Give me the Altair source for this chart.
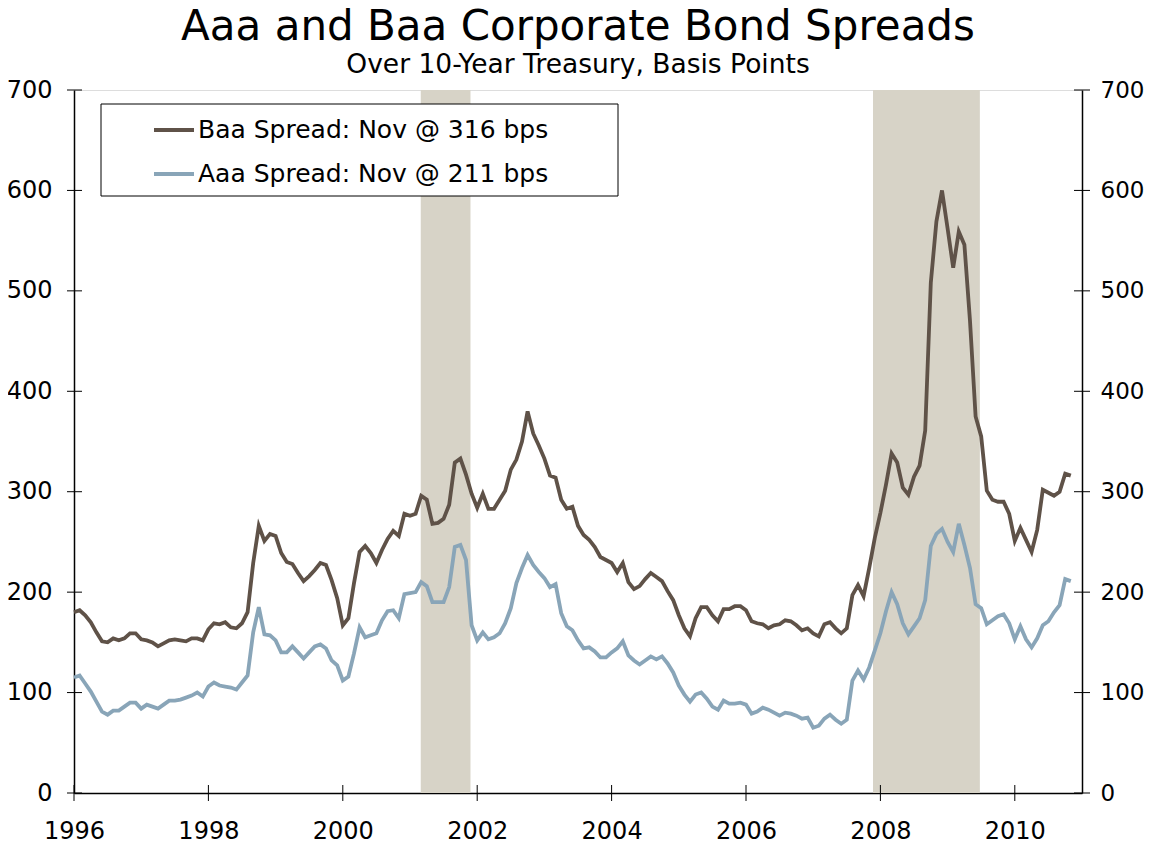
import altair as alt
import pandas as pd

# Monthly spreads over 10-year Treasury (basis points), Jan 1996 - Nov 2010
baa = [
    180, 182, 177, 170, 160, 151, 150, 154, 152, 154, 159, 159,  # 1996
    153, 152, 150, 146, 149, 152, 153, 152, 151, 154, 154, 152,  # 1997
    163, 169, 168, 170, 165, 164, 169, 180, 229, 266, 251, 258,  # 1998
    256, 239, 230, 228, 219, 211, 216, 222, 229, 227, 212, 194,  # 1999
    167, 174, 209, 240, 246, 239, 229, 242, 253, 261, 256, 278,  # 2000
    276, 278, 296, 292, 268, 269, 273, 287, 329, 333, 317, 298,  # 2001
    284, 298, 283, 283, 292, 301, 322, 332, 350, 380, 358, 346,  # 2002
    333, 316, 314, 292, 283, 285, 266, 257, 252, 245, 235, 232,  # 2003
    229, 220, 229, 210, 203, 206, 213, 219, 215, 211, 201, 192,  # 2004
    177, 164, 156, 174, 185, 185, 177, 171, 183, 183, 186, 186,  # 2005
    182, 171, 169, 168, 164, 167, 168, 172, 171, 167, 162, 164,  # 2006
    159, 156, 168, 170, 164, 159, 164, 197, 207, 196, 224, 254,  # 2007
    279, 307, 338, 329, 304, 297, 315, 326, 361, 508, 569, 600,  # 2008
    562, 523, 559, 546, 470, 375, 355, 301, 292, 290, 290, 278,  # 2009
    251, 264, 252, 240, 262, 302, 299, 296, 300, 318, 316,       # 2010
]
aaa = [
    115, 117, 109, 101, 91, 81, 78, 82, 82, 86, 90, 90,          # 1996
    84, 88, 86, 84, 88, 92, 92, 93, 95, 97, 100, 96,             # 1997
    106, 110, 107, 106, 105, 103, 110, 117, 160, 185, 158, 157,  # 1998
    152, 140, 140, 146, 140, 134, 140, 146, 148, 144, 132, 127,  # 1999
    112, 116, 139, 165, 155, 157, 159, 172, 181, 182, 174, 198,  # 2000
    199, 200, 210, 206, 190, 190, 190, 205, 245, 247, 232, 167,  # 2001
    152, 160, 153, 155, 159, 169, 184, 209, 224, 237, 227, 220,  # 2002
    214, 205, 208, 179, 166, 162, 152, 144, 145, 141, 135, 135,  # 2003
    140, 144, 151, 137, 132, 128, 132, 136, 133, 136, 129, 120,  # 2004
    107, 98, 91, 98, 100, 94, 86, 83, 92, 89, 89, 90,            # 2005
    88, 79, 81, 85, 83, 80, 77, 80, 79, 77, 74, 75,              # 2006
    65, 67, 74, 78, 73, 69, 73, 112, 122, 113, 125, 142,         # 2007
    159, 181, 200, 188, 169, 158, 166, 174, 192, 246, 258, 263,  # 2008
    250, 240, 268, 247, 224, 188, 184, 168, 172, 176, 178, 169,  # 2009
    153, 166, 153, 145, 154, 167, 171, 180, 187, 213, 211,       # 2010
]
start_year = 1996
recession_start = [2001.16, 2007.89]
recession_end = [2001.90, 2009.48]
x_ticks = [1996, 1998, 2000, 2002, 2004, 2006, 2008, 2010]
y_ticks = [0, 100, 200, 300, 400, 500, 600, 700]

baa_label = f"Baa Spread: Nov @ {baa[-1]} bps"
aaa_label = f"Aaa Spread: Nov @ {aaa[-1]} bps"
baa_color = "#5F5248"
aaa_color = "#89A5B8"
band_color = "#D7D3C7"
FONT = "DejaVu Sans"

W, H = 1008, 703

rows = []
for i, v in enumerate(baa):
    rows.append({"t": start_year + i / 12, "v": v, "s": baa_label})
for i, v in enumerate(aaa):
    rows.append({"t": start_year + i / 12, "v": v, "s": aaa_label})
df = pd.DataFrame(rows)

rec = pd.DataFrame({"a": recession_start, "b": recession_end})
yt = pd.DataFrame({"v": y_ticks})
xt = pd.DataFrame({"yr": x_ticks})

xscale = alt.Scale(domain=[1996, 2011], nice=False, zero=False)
yscale = alt.Scale(domain=[0, 700], nice=False, zero=True)

x_axis = alt.Axis(
    values=x_ticks, format="d", ticks=False, grid=False, title=None,
    labelFontSize=24, labelFont=FONT, labelColor="black",
    labelPadding=26, domainColor="black", domainWidth=1.5,
    labelFlush=False, labelOverlap=False,
)

bands = alt.Chart(rec).mark_rect(color=band_color).encode(
    x=alt.X("a:Q", scale=xscale, axis=x_axis),
    x2="b:Q",
)

box = alt.Chart(pd.DataFrame({"k": [0]})).mark_rect(
    fill="white", stroke="black", strokeWidth=1
).encode(
    x=alt.value(27), x2=alt.value(544), y=alt.value(14), y2=alt.value(106)
)

lines = alt.Chart(df).mark_line(strokeWidth=3.8).encode(
    x=alt.X("t:Q", scale=xscale, axis=x_axis),
    y=alt.Y(
        "v:Q",
        scale=yscale,
        axis=alt.Axis(
            values=y_ticks, ticks=False, grid=False, title=None,
            labelFontSize=24, labelFont=FONT, labelColor="black",
            labelPadding=22, domainColor="black", domainWidth=1.5,
            labelFlush=False, labelOverlap=False,
        ),
    ),
    color=alt.Color(
        "s:N",
        scale=alt.Scale(domain=[baa_label, aaa_label], range=[baa_color, aaa_color]),
        legend=alt.Legend(
            orient="none", legendX=78, legendY=18, title=None,
            symbolType="stroke", symbolSize=1600, symbolStrokeWidth=4,
            labelFontSize=25, labelFont=FONT, labelColor="black",
            labelOffset=2, labelLimit=0, rowPadding=9, padding=0,
        ),
    ),
    detail="s:N",
)

left_ticks = alt.Chart(yt).mark_rule(color="black", strokeWidth=1).encode(
    y=alt.Y("v:Q", scale=yscale, axis=None),
    x=alt.value(-7), x2=alt.value(8),
)

right_ticks = alt.Chart(yt).mark_rule(color="black", strokeWidth=1).encode(
    y=alt.Y(
        "v:Q",
        scale=yscale,
        axis=alt.Axis(
            orient="right", values=y_ticks, ticks=False, grid=False, title=None,
            labelFontSize=23, labelFont=FONT, labelColor="black",
            labelPadding=18, domainColor="black", domainWidth=1.5,
            labelFlush=False, labelOverlap=False,
        ),
    ),
    x=alt.value(W - 8), x2=alt.value(W + 8),
)

bottom_ticks = alt.Chart(xt).mark_rule(color="black", strokeWidth=1).encode(
    x=alt.X("yr:Q", scale=xscale, axis=x_axis),
    y=alt.value(H - 8), y2=alt.value(H + 8),
)

chart = alt.layer(
    bands, box, lines, left_ticks, right_ticks, bottom_ticks
).resolve_axis(y="independent").properties(
    width=W,
    height=H,
    autosize=alt.AutoSizeParams(type="none"),
    padding={"left": 66, "top": 82, "right": 63, "bottom": 52},
    title=alt.TitleParams(
        text="Aaa and Baa Corporate Bond Spreads",
        subtitle="Over 10-Year Treasury, Basis Points",
        font=FONT, fontSize=42, fontWeight="normal", color="black",
        subtitleFont=FONT, subtitleFontSize=26.5, subtitleColor="black",
        subtitlePadding=3, anchor="middle", offset=-1,
    ),
).configure_view(stroke="#808080", strokeWidth=1).configure(background="white")

chart.save("out.html", embed_options={"renderer": "svg", "actions": False})
